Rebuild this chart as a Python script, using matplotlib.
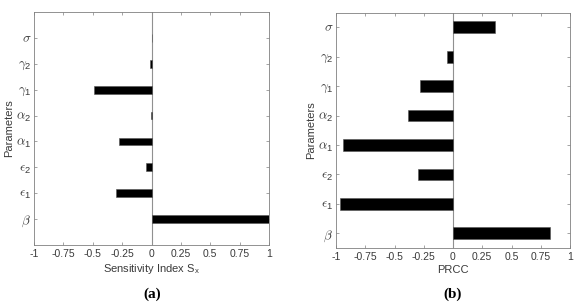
import numpy as np
import matplotlib
matplotlib.use('Agg')
import matplotlib.pyplot as plt

params = [r'$\beta$', r'$\epsilon_\mathregular{1}$', r'$\epsilon_\mathregular{2}$',
          r'$\alpha_\mathregular{1}$', r'$\alpha_\mathregular{2}$',
          r'$\gamma_\mathregular{1}$', r'$\gamma_\mathregular{2}$', r'$\sigma$']
sens_index = [1.0, -0.30, -0.047, -0.28, -0.003, -0.49, -0.015, 0.0]
prcc = [0.83, -0.97, -0.30, -0.94, -0.385, -0.28, -0.048, 0.36]
xticks = [-1, -0.75, -0.5, -0.25, 0, 0.25, 0.5, 0.75, 1]
xticklabels = ['-1', '-0.75', '-0.5', '-0.25', '0', '0.25', '0.5', '0.75', '1']

plt.rcParams['font.family'] = ['Liberation Sans', 'DejaVu Sans']
plt.rcParams['mathtext.fontset'] = 'cm'

fig = plt.figure(figsize=(5.87, 3.04), dpi=100)
W, H = 587, 304
ax1 = fig.add_axes([34/W, 1-245/H, 235/W, 233/H])
ax2 = fig.add_axes([336/W, 1-248/H, 234/W, 235.5/H])

gray = '#808080'
txt = '#3a3a3a'

def style(ax, vals, height, ylim, xlabel):
    y = np.arange(1, len(vals)+1)
    ax.barh(y, vals, height=height, color='black', edgecolor='#555555', linewidth=0.4, zorder=3)
    ax.axvline(0, color='#909090', lw=0.8, zorder=2)
    ax.set_xlim(-1, 1)
    ax.set_ylim(*ylim)
    ax.set_xticks(xticks)
    ax.set_xticklabels(xticklabels)
    ax.set_yticks(y)
    ax.set_yticklabels(params)
    ax.tick_params(direction='in', length=2.5, width=0.5, colors=gray,
                   labelcolor=txt, labelsize=7.5, top=True, right=True, pad=3)
    ax.tick_params(axis='y', labelsize=9.5, pad=2)
    for s in ax.spines.values():
        s.set_color(gray)
        s.set_linewidth(0.6)
    ax.set_ylabel('Parameters', fontsize=8, color=txt, labelpad=1)
    ax.set_xlabel(xlabel, fontsize=8, color=txt, labelpad=2)

style(ax1, sens_index, 0.3, (0, 9), r'Sensitivity Index S$_\mathregular{x}$')
style(ax2, prcc, 0.4, (0.5, 8.5), 'PRCC')

fig.text(152/W, 1-294/H, '(a)', ha='center', va='center', fontsize=11,
         fontweight='bold', family='Liberation Serif')
fig.text(453/W, 1-294/H, '(b)', ha='center', va='center', fontsize=11,
         fontweight='bold', family='Liberation Serif')

fig.savefig('out.png', dpi=100)
